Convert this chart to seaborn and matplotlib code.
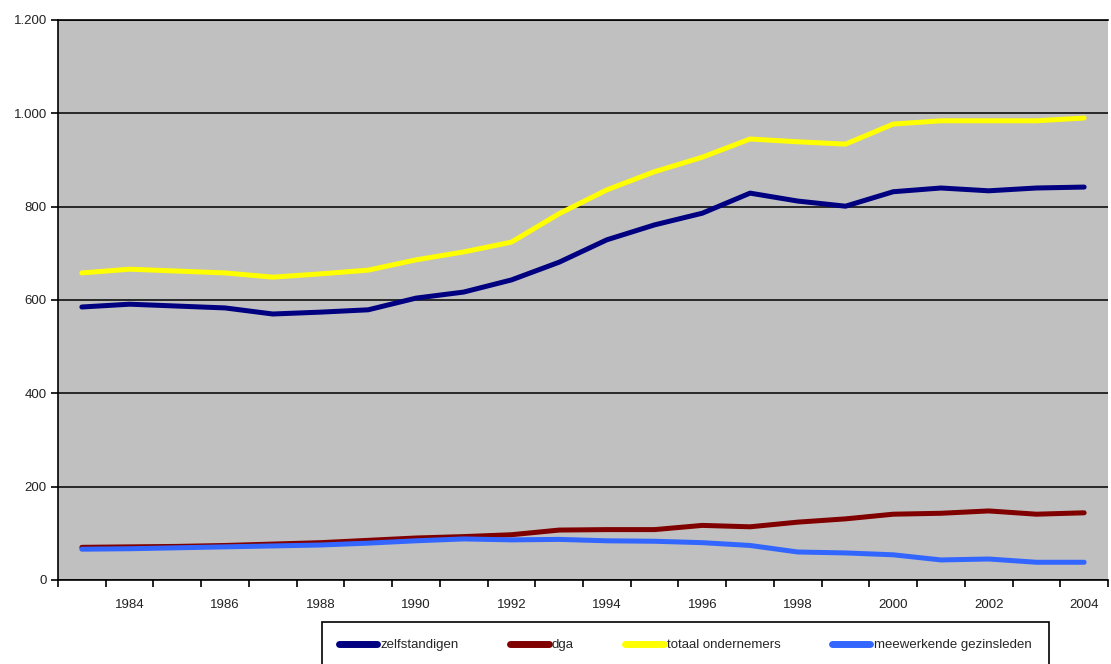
import pandas as pd
import seaborn as sns
import matplotlib.pyplot as plt
from matplotlib.lines import Line2D
from matplotlib.ticker import FuncFormatter

# data (aantal x 1.000)
years = list(range(1983, 2005))
zelfstandigen = [585, 591, 587, 583, 570, 574, 579, 604, 617, 643, 681,
                 729, 761, 786, 829, 812, 801, 832, 840, 834, 840, 842]
dga = [70, 71, 72, 74, 77, 80, 85, 90, 93, 97, 107,
       108, 108, 117, 114, 124, 131, 141, 143, 148, 141, 144]
totaal_ondernemers = [658, 666, 662, 658, 649, 656, 664, 686, 703, 724, 785,
                      836, 875, 906, 945, 939, 934, 977, 984, 984, 984, 990]
meewerkende = [66, 67, 69, 71, 73, 75, 79, 84, 88, 86, 87,
               84, 83, 80, 74, 60, 58, 54, 43, 45, 38, 38]

series_names = ["zelfstandigen", "dga", "totaal ondernemers", "meewerkende gezinsleden"]
series_values = [zelfstandigen, dga, totaal_ondernemers, meewerkende]
series_colors = ["#000080", "#800000", "#FFFF00", "#3366FF"]
label_years = list(range(1984, 2005, 2))

# long format table for seaborn
df = pd.DataFrame({
    "jaar": years * len(series_names),
    "aantal": [v for vals in series_values for v in vals],
    "reeks": [n for n in series_names for _ in years],
})

sns.set_style("white")
plt.rcParams["font.family"] = ["Liberation Sans", "DejaVu Sans"]

fig = plt.figure(figsize=(11.11, 6.64), dpi=100)
ax = fig.add_axes([58 / 1111, 1 - 580 / 664, 1050 / 1111, 560 / 664])

sns.lineplot(data=df, x="jaar", y="aantal", hue="reeks",
             hue_order=series_names,
             palette=dict(zip(series_names, series_colors)),
             linewidth=3.6, legend=False, ax=ax,
             solid_capstyle="round", solid_joinstyle="round")

ax.set_facecolor("#C0C0C0")
ax.set_xlim(years[0] - 0.5, years[-1] + 0.5)
ax.set_ylim(0, 1200)
ax.set_xlabel("")
ax.set_ylabel("")

# y axis: gridlines every 200, dutch thousands separator
ax.set_yticks(range(0, 1201, 200))
ax.yaxis.set_major_formatter(FuncFormatter(lambda v, p: f"{int(v):,}".replace(",", ".")))
ax.yaxis.grid(True, color="black", linewidth=1.1)
ax.xaxis.grid(False)
ax.set_axisbelow(True)

# x axis: tick marks between categories, labels every other year
ax.set_xticks([y - 0.5 for y in years] + [years[-1] + 0.5])
ax.set_xticklabels([])
ax.set_xticks(label_years, minor=True)
ax.set_xticklabels([str(y) for y in label_years], minor=True)
ax.tick_params(axis="both", which="major", direction="out", length=5,
               width=1.2, color="black", labelsize=9.5, labelcolor="#222222",
               bottom=True, left=True)
ax.tick_params(axis="x", which="minor", length=0, labelsize=9.5,
               labelcolor="#222222", pad=14, bottom=True)
ax.tick_params(axis="y", pad=3)

for side in ["left", "bottom", "top"]:
    ax.spines[side].set_color("black")
    ax.spines[side].set_linewidth(1.2)
ax.spines["right"].set_visible(False)

handles = [Line2D([], [], color=c, linewidth=5, solid_capstyle="round") for c in series_colors]
leg = fig.legend(handles, series_names, loc="upper left",
                 bbox_to_anchor=(322 / 1111, 1 - 622 / 664), ncol=4,
                 frameon=True, fancybox=False, framealpha=1, edgecolor="black",
                 handlelength=2.9, handletextpad=0.25, columnspacing=3.9,
                 borderpad=1.3, borderaxespad=0, fontsize=9.5)
leg.get_frame().set_linewidth(1.2)

fig.savefig("out.png", dpi=100)
